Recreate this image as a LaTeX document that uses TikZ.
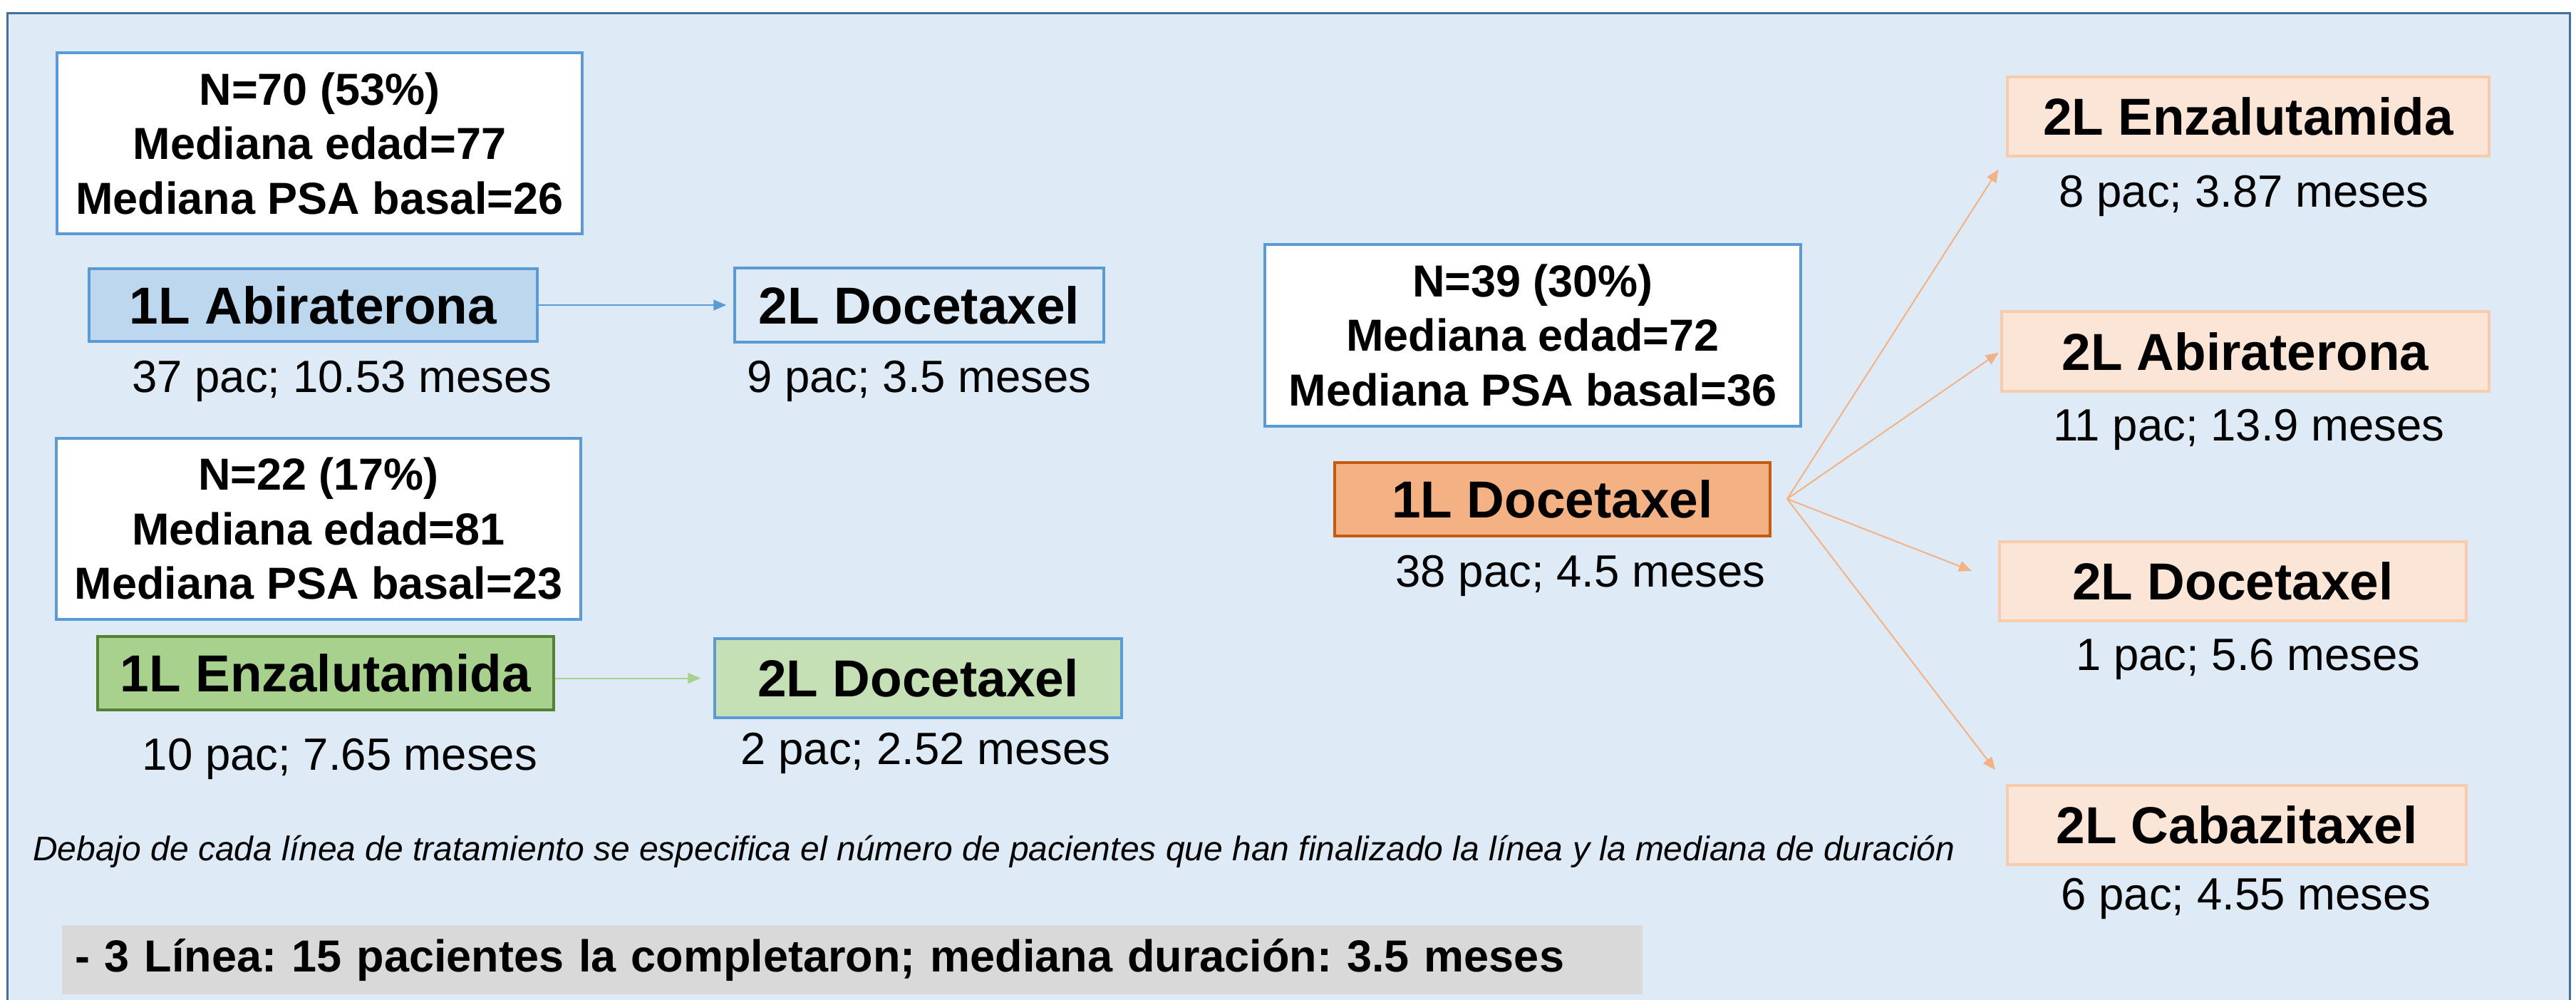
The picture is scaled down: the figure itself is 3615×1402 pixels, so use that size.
\documentclass[tikz,border=0pt]{standalone}
\usepackage{fontspec}
\setmainfont{Liberation Sans}
\usetikzlibrary{arrows.meta}
\definecolor{panelbg}{HTML}{DEEAF6}
\definecolor{panelline}{HTML}{41719C}
\definecolor{blueline}{HTML}{5B9BD5}
\definecolor{bluefill}{HTML}{BDD7EE}
\definecolor{greenfill}{HTML}{A9D18E}
\definecolor{greenline}{HTML}{548235}
\definecolor{lgreenfill}{HTML}{C5E0B4}
\definecolor{orangefill}{HTML}{F4B183}
\definecolor{orangeline}{HTML}{C55A11}
\definecolor{peachfill}{HTML}{FBE5D6}
\definecolor{peachline}{HTML}{F8CBAD}
\definecolor{grayfill}{HTML}{D9D9D9}
\frenchspacing
\begin{document}
\begin{tikzpicture}[x=0.2pt,y=-0.2pt,
  sz/.style 2 args={minimum width=#1*0.2pt, minimum height=#2*0.2pt},
  statbox/.style={draw=blueline, fill=white, line width=0.7pt, inner sep=0pt, align=center,
    font=\fontsize{12.6}{15.3}\selectfont\bfseries},
  treat/.style={line width=0.7pt, inner sep=0pt, font=\fontsize{14.6}{17}\selectfont\bfseries},
  info/.style={anchor=base, inner sep=0pt, font=\fontsize{12.7}{15}\selectfont},
  conn/.style={line width=0.4pt, -{Triangle[length=3.6pt,width=3pt]}},
]
\useasboundingbox (0,0) rectangle (3615,1402);
% panel
\draw[panelline, fill=panelbg, line width=0.6pt] (10,18) rectangle (3606,1440);

% left column: abiraterona
\node (s70) [statbox, sz={737}{254}] at (448.5,201) {N=70 (53\%)\\Mediana edad=77\\Mediana PSA basal=26};
\node (abi1) [treat, draw=blueline, fill=bluefill, sz={629}{102}] at (439.5,428) {1L Abiraterona};
\node (abi1i) [info] at (480,550) {37 pac; 10.53 meses};
\node (doc2a) [treat, draw=blueline, fill=panelbg, sz={518}{104}] at (1290,428) {2L Docetaxel};
\node (doc2ai) [info] at (1290,550) {9 pac; 3.5 meses};
\draw[conn, blueline, shorten >=2pt] (abi1) -- (doc2a);

% left column: enzalutamida
\node (s22) [statbox, sz={736}{254}] at (447,742) {N=22 (17\%)\\Mediana edad=81\\Mediana PSA basal=23};
\node (enz1) [treat, draw=greenline, fill=greenfill, sz={640}{103}] at (457,944.5) {1L Enzalutamida};
\node (enz1i) [info] at (477,1080) {10 pac; 7.65 meses};
\node (doc2b) [treat, draw=blueline, fill=lgreenfill, sz={571}{111}] at (1288.5,951.5) {2L Docetaxel};
\node (doc2bi) [info] at (1299,1072) {2 pac; 2.52 meses};
\draw[conn, greenfill, shorten >=3.6pt] (enz1.east |- doc2b.west) -- (doc2b.west);

% middle: docetaxel
\node (s39) [statbox, sz={752}{255}] at (2151,470.5) {N=39 (30\%)\\Mediana edad=72\\Mediana PSA basal=36};
\node (doc1) [treat, draw=orangeline, fill=orangefill, sz={611}{103}] at (2178.5,700.5) {1L Docetaxel};
\node (doc1i) [info] at (2218,823) {38 pac; 4.5 meses};
\coordinate (src) at (2508,700);

% right column
\node (enz2) [treat, draw=peachline, fill=peachfill, sz={676}{111}] at (3155,163.5) {2L Enzalutamida};
\node (enz2i) [info] at (3149,290) {8 pac; 3.87 meses};
\node (abi2) [treat, draw=peachline, fill=peachfill, sz={684}{112}] at (3151,493) {2L Abiraterona};
\node (abi2i) [info] at (3156,618) {11 pac; 13.9 meses};
\node (doc2c) [treat, draw=peachline, fill=peachfill, sz={655}{111}] at (3133.5,815.5) {2L Docetaxel};
\node (doc2ci) [info] at (3155,940) {1 pac; 5.6 meses};
\node (cab2) [treat, draw=peachline, fill=peachfill, sz={644}{111}] at (3139,1157.5) {2L Cabazitaxel};
\node (cab2i) [info] at (3152,1276) {6 pac; 4.55 meses};

\draw[conn, orangefill, shorten >=4pt] (src) -- (enz2.south west);
\draw[conn, orangefill, shorten >=0.6pt] (src) -- (abi2.west);
\draw[conn, orangefill, shorten >=8pt] (src) -- (doc2c.west);
\draw[conn, orangefill, shorten >=5pt] (src) -- (cab2.north west);

% notes
\node (note) [anchor=base west, inner sep=0pt, font=\fontsize{9.6}{11}\selectfont\itshape] at (45,1207)
  {Debajo de cada línea de tratamiento se especifica el número de pacientes que han finalizado la línea y la mediana de duración};
\node (third) [anchor=west, fill=grayfill, inner xsep=3.6pt, inner ysep=0pt, text width=436.4pt, align=left,
  minimum height=19.4pt, font=\fontsize{12.6}{14}\selectfont\bfseries] at (86,1346.5)
  {- 3 Línea: 15 pacientes la completaron; mediana duración: 3.5 meses};
\end{tikzpicture}
\end{document}
